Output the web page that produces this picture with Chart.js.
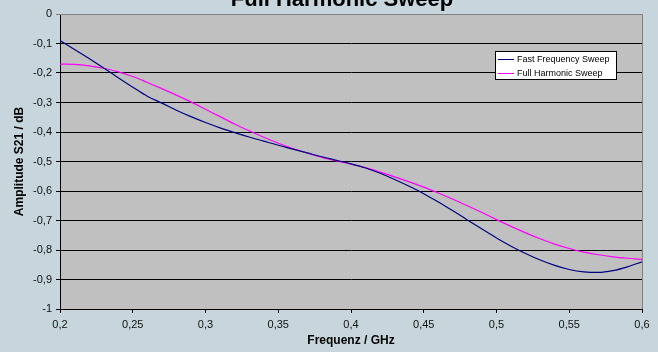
<!DOCTYPE html>
<html>
<head>
<meta charset="utf-8">
<script src="https://cdn.jsdelivr.net/npm/chart.js@4"></script>
<style>
  html, body { margin: 0; padding: 0; background: #c6d6dc; }
  #wrap { width: 658px; height: 352px; }
</style>
</head>
<body>
<div id="wrap"><canvas id="chart" width="658" height="352"></canvas></div>
<script>
// values
const freq = [0.20, 0.21, 0.22, 0.23, 0.24, 0.25, 0.26, 0.27, 0.28, 0.29,
              0.30, 0.31, 0.32, 0.33, 0.34, 0.35, 0.36, 0.37, 0.38, 0.39,
              0.40, 0.41, 0.42, 0.43, 0.44, 0.45, 0.46, 0.47, 0.48, 0.49,
              0.50, 0.51, 0.52, 0.53, 0.54, 0.55, 0.56, 0.57, 0.58, 0.59, 0.60];
const fastSweep = [-0.090, -0.120, -0.151, -0.183, -0.216, -0.248, -0.279, -0.302, -0.326, -0.348,
                   -0.368, -0.386, -0.402, -0.417, -0.431, -0.445, -0.458, -0.471, -0.484, -0.496,
                   -0.508, -0.522, -0.540, -0.561, -0.584, -0.609, -0.637, -0.667, -0.698, -0.729,
                   -0.759, -0.787, -0.812, -0.834, -0.852, -0.866, -0.874, -0.876, -0.870, -0.857, -0.840];
const fullSweep = [-0.170, -0.171, -0.176, -0.184, -0.196, -0.212, -0.232, -0.253, -0.275, -0.298,
                   -0.323, -0.348, -0.373, -0.396, -0.418, -0.438, -0.456, -0.472, -0.486, -0.498,
                   -0.509, -0.521, -0.536, -0.552, -0.569, -0.587, -0.607, -0.628, -0.650, -0.673,
                   -0.697, -0.720, -0.742, -0.762, -0.780, -0.795, -0.807, -0.816, -0.823, -0.828, -0.832];
const xTicks = [0.2, 0.25, 0.3, 0.35, 0.4, 0.45, 0.5, 0.55, 0.6];
const yTicks = [0, -0.1, -0.2, -0.3, -0.4, -0.5, -0.6, -0.7, -0.8, -0.9, -1];

const titleText = 'Full Harmonic Sweep';
const xTitle = 'Frequenz / GHz';
const yTitle = 'Amplitude S21 / dB';

const fmt = v => String(Math.round(v * 100) / 100).replace('.', ',');

const frame = {
    id: 'frame',
    beforeDraw(chart) {
        const { ctx, chartArea: a } = chart;
        ctx.save();
        ctx.fillStyle = '#c6d6dc';
        ctx.fillRect(0, 0, chart.width, chart.height);
        ctx.fillStyle = '#c0c0c0';
        ctx.fillRect(a.left, a.top, a.right - a.left, a.bottom - a.top);
        ctx.restore();
    },
    afterDraw(chart) {
        const { ctx, chartArea: a } = chart;
        ctx.save();
        // gray top / right border of the plot
        ctx.strokeStyle = '#808080';
        ctx.lineWidth = 1;
        ctx.beginPath();
        ctx.moveTo(a.left, a.top + 0.5);
        ctx.lineTo(a.right + 0.5, a.top + 0.5);
        ctx.lineTo(a.right + 0.5, a.bottom);
        ctx.stroke();

        // title (cut off at the top like the original)
        ctx.fillStyle = '#000';
        ctx.font = 'bold 22px "Liberation Sans", Arial, sans-serif';
        ctx.textAlign = 'center';
        ctx.textBaseline = 'alphabetic';
        ctx.fillText(titleText, 342, 6);

        // axis titles
        ctx.font = 'bold 12px "Liberation Sans", Arial, sans-serif';
        ctx.textBaseline = 'middle';
        ctx.fillText(xTitle, (a.left + a.right) / 2, 341);
        ctx.save();
        ctx.translate(20, (a.top + a.bottom) / 2);
        ctx.rotate(-Math.PI / 2);
        ctx.fillText(yTitle, 0, 0);
        ctx.restore();

        // legend box
        const lx = 495, ly = 51, lw = 121, lh = 28;
        ctx.fillStyle = '#fff';
        ctx.fillRect(lx, ly, lw, lh);
        ctx.strokeStyle = '#000';
        ctx.strokeRect(lx + 0.5, ly + 0.5, lw, lh);
        ctx.font = '9px "Liberation Sans", Arial, sans-serif';
        ctx.textAlign = 'left';
        chart.data.datasets.forEach((ds, i) => {
            const y = ly + 8 + i * 14;
            ctx.strokeStyle = ds.borderColor;
            ctx.beginPath();
            ctx.moveTo(lx + 3, y + 0.5);
            ctx.lineTo(lx + 19, y + 0.5);
            ctx.stroke();
            ctx.fillStyle = '#000';
            ctx.fillText(ds.label, lx + 22, y + 1);
        });
        ctx.restore();
    }
};

new Chart(document.getElementById('chart'), {
    type: 'line',
    data: {
        datasets: [
            {
                label: 'Fast Frequency Sweep',
                data: freq.map((f, i) => ({ x: f, y: fastSweep[i] })),
                borderColor: '#000080',
                borderWidth: 1.2,
                pointRadius: 0,
                cubicInterpolationMode: 'monotone'
            },
            {
                label: 'Full Harmonic Sweep',
                data: freq.map((f, i) => ({ x: f, y: fullSweep[i] })),
                borderColor: '#ff00ff',
                borderWidth: 1.2,
                pointRadius: 0,
                cubicInterpolationMode: 'monotone'
            }
        ]
    },
    options: {
        responsive: false,
        animation: false,
        layout: { padding: { top: 14, right: 16, left: 0, bottom: 0 } },
        plugins: {
            legend: { display: false },
            title: { display: false },
            tooltip: { enabled: false }
        },
        scales: {
            x: {
                type: 'linear',
                min: 0.2,
                max: 0.6,
                afterFit: s => { s.height = 43; },
                afterBuildTicks: s => { s.ticks = xTicks.map(v => ({ value: v })); },
                border: { color: '#000', width: 1 },
                grid: { drawOnChartArea: false, color: '#000', tickLength: 4 },
                ticks: {
                    color: '#111',
                    font: { family: '"Liberation Sans", Arial, sans-serif', size: 11 },
                    padding: 5,
                    maxRotation: 0,
                    callback: v => fmt(v)
                }
            },
            y: {
                min: -1,
                max: 0,
                afterFit: s => { s.width = 60; },
                afterBuildTicks: s => { s.ticks = yTicks.map(v => ({ value: v })); },
                border: { color: '#000', width: 1 },
                grid: {
                    color: c => (c.tick && c.tick.value === 0 ? '#808080' : '#000'),
                    tickLength: 4
                },
                ticks: {
                    color: '#111',
                    font: { family: '"Liberation Sans", Arial, sans-serif', size: 11 },
                    padding: 4,
                    callback: v => fmt(v)
                }
            }
        }
    },
    plugins: [frame]
});
</script>
</body>
</html>
